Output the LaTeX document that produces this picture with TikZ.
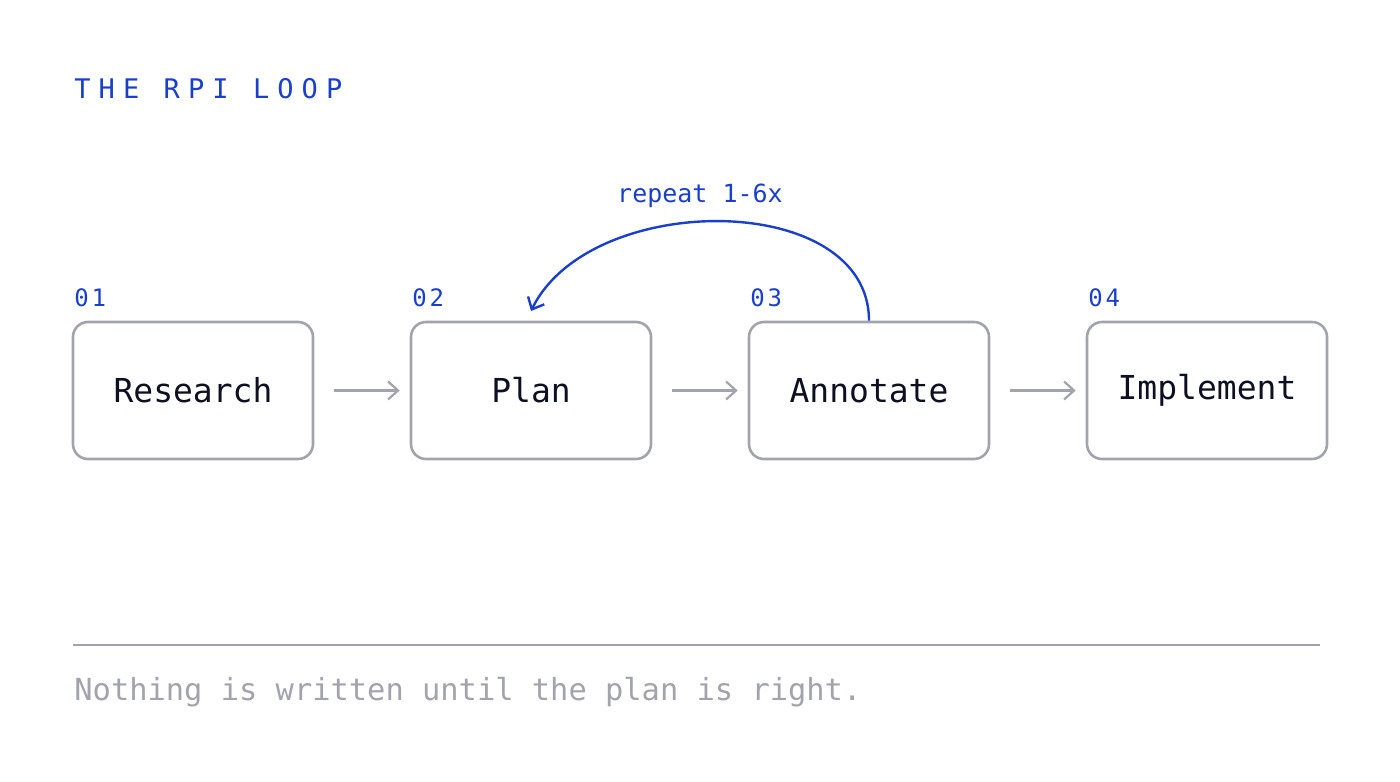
\documentclass[tikz,border=0pt]{standalone}
\usepackage{fontspec}
\setmonofont{DejaVu Sans Mono}
\usetikzlibrary{arrows.meta}
\definecolor{blu}{HTML}{1A3FC8}
\definecolor{gry}{HTML}{A3A3AD}
\definecolor{ink}{HTML}{0D1020}
\begin{document}
\begin{tikzpicture}[x=0.5pt,y=-0.5pt,
  box/.style={draw=gry,line width=1.3pt,rounded corners=7.5pt,minimum width=120pt,minimum height=68.5pt,inner sep=0pt,font=\ttfamily\fontsize{16.5}{20}\selectfont,text=ink},
  num/.style={anchor=base west,inner sep=0pt,text=blu,font=\ttfamily\addfontfeature{LetterSpace=12}\fontsize{12}{14}\selectfont},
  arr/.style={draw=gry,line width=1.1pt,-{Straight Barb[length=5pt,width=9pt]}}]
\useasboundingbox (0,0) rectangle (1400,781);
\node[anchor=base west,inner sep=0pt,text=blu,font=\ttfamily\addfontfeature{LetterSpace=30}\fontsize{13.5}{16}\selectfont] (title) at (74,98) {THE RPI LOOP};
\node[box] (r) at (193,390.5) {Research};
\node[box] (p) at (531,390.5) {Plan};
\node[box] (a) at (869,390.5) {Annotate};
\node[box] (i) at (1207,390.5) {Implement};
\node[num] (n1) at (74,306) {01};
\node[num] (n2) at (412,306) {02};
\node[num] (n3) at (750,306) {03};
\node[num] (n4) at (1088,306) {04};
\draw[arr] ([xshift=10pt]r.east) -- ([xshift=-5pt]p.west);
\draw[arr] ([xshift=10pt]p.east) -- ([xshift=-5pt]a.west);
\draw[arr] ([xshift=10pt]a.east) -- ([xshift=-5pt]i.west);
\coordinate (tip) at (531,311);
\draw[draw=blu,line width=1.2pt,-{Straight Barb[length=5pt,width=9pt]}] (a.north) .. controls (869,190) and (590,190) .. (tip);
\node[anchor=base,inner sep=0pt,text=blu,font=\ttfamily\fontsize{12.5}{15}\selectfont] (rep) at (700,202) {repeat 1-6x};
\coordinate (d1) at (73,645); \coordinate (d2) at (1320,645);
\draw[gry,line width=1.1pt] (d1) -- (d2);
\node[anchor=base west,inner sep=0pt,text=gry,font=\ttfamily\fontsize{15.2}{18}\selectfont] (foot) at (74,700) {Nothing is written until the plan is right.};
\end{tikzpicture}
\end{document}
